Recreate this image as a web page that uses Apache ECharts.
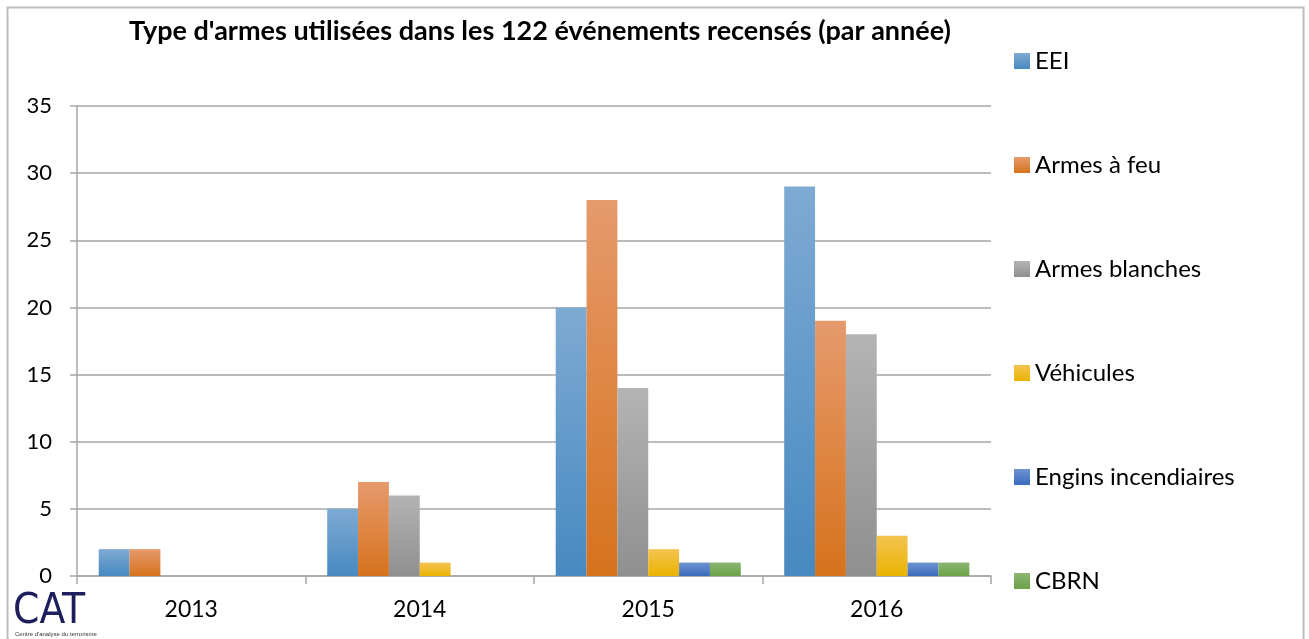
<!DOCTYPE html>
<html>
<head>
<meta charset="utf-8">
<script src="https://cdn.jsdelivr.net/npm/echarts@6/dist/echarts.min.js"></script>
<style>
  html, body { margin: 0; padding: 0; background: #fff; }
  #chart { width: 1309px; height: 639px; }
</style>
</head>
<body>
<div id="chart"></div>
<script>
const years = ['2013', '2014', '2015', '2016'];
const seriesNames = ['EEI', 'Armes à feu', 'Armes blanches', 'Véhicules', 'Engins incendiaires', 'CBRN'];
const eei = [2, 5, 20, 29];
const armesFeu = [2, 7, 28, 19];
const armesBlanches = [0, 6, 14, 18];
const vehicules = [0, 1, 2, 3];
const engins = [0, 0, 1, 1];
const cbrn = [0, 0, 1, 1];
const yTicks = [0, 5, 10, 15, 20, 25, 30, 35];

const values = [eei, armesFeu, armesBlanches, vehicules, engins, cbrn];
// top / bottom of each bar gradient
const colors = [
    ['#7eaad3', '#4789c0'],
    ['#e69a6c', '#d6721c'],
    ['#b4b4b4', '#8f8f8f'],
    ['#f3c452', '#ebb300'],
    ['#6f93d2', '#3a6bbd'],
    ['#8bb571', '#6ca248']
];
const font = 'Lato, "Open Sans", sans-serif';

let myChart = echarts.init(document.getElementById('chart'));

const series = seriesNames.map((name, i) => ({
    name: name,
    type: 'bar',
    data: values[i],
    barGap: 0,
    barCategoryGap: '19%',
    itemStyle: {
        color: new echarts.graphic.LinearGradient(0, 0, 0, 1, [
            {offset: 0, color: colors[i][0]},
            {offset: 1, color: colors[i][1]}
        ])
    }
}));

const option = {
    animation: false,
    backgroundColor: '#fff',
    textStyle: {fontFamily: font},
    title: {
        text: "Type d'armes utilisées dans les 122 événements recensés (par année)",
        left: 535,
        textAlign: 'center',
        top: 13,
        textStyle: {fontSize: 27, fontWeight: 'bold', color: '#000', fontFamily: font}
    },
    legend: {
        orient: 'vertical',
        left: 1014,
        top: 49,
        padding: 0,
        itemWidth: 16,
        itemHeight: 16,
        itemGap: 80,
        icon: 'rect',
        data: seriesNames,
        textStyle: {fontSize: 24, color: '#000', lineHeight: 24, fontFamily: font}
    },
    grid: {left: 77, right: 318, top: 106, bottom: 63, containLabel: false},
    xAxis: {
        type: 'category',
        data: years,
        axisLine: {lineStyle: {color: '#a6a6a6', width: 1.5}},
        axisTick: {show: true, length: 8, lineStyle: {color: '#a6a6a6', width: 1.5}},
        axisLabel: {fontSize: 23, color: '#000', margin: 22, fontFamily: font}
    },
    yAxis: {
        type: 'value',
        min: yTicks[0],
        max: yTicks[yTicks.length - 1],
        interval: yTicks[1] - yTicks[0],
        axisLine: {show: true, lineStyle: {color: '#a6a6a6', width: 1.5}},
        axisTick: {show: true, length: 7, lineStyle: {color: '#a6a6a6', width: 1.5}},
        axisLabel: {fontSize: 22, color: '#000', margin: 25, fontFamily: font},
        splitLine: {lineStyle: {color: '#a6a6a6', width: 1.5}}
    },
    graphic: [
        // chart frame
        {type: 'polyline', shape: {points: [[7.5, 639], [7.5, 7.5], [1303.5, 7.5], [1303.5, 639]]},
         style: {stroke: '#bdbdbd', lineWidth: 2, fill: null}, silent: true},
        // CAT logo
        {type: 'text', left: 13, top: 591,
         style: {text: 'CAT', fontSize: 42, fontFamily: '"Liberation Sans Narrow", "DejaVu Sans Condensed", sans-serif',
                 fill: '#1c1f5c'}},
        {type: 'text', left: 15, top: 631,
         style: {text: "Centre d'analyse du terrorisme", fontSize: 6, fill: '#333', fontFamily: 'sans-serif'}}
    ],
    series: series
};

myChart.setOption(option);
</script>
</body>
</html>
